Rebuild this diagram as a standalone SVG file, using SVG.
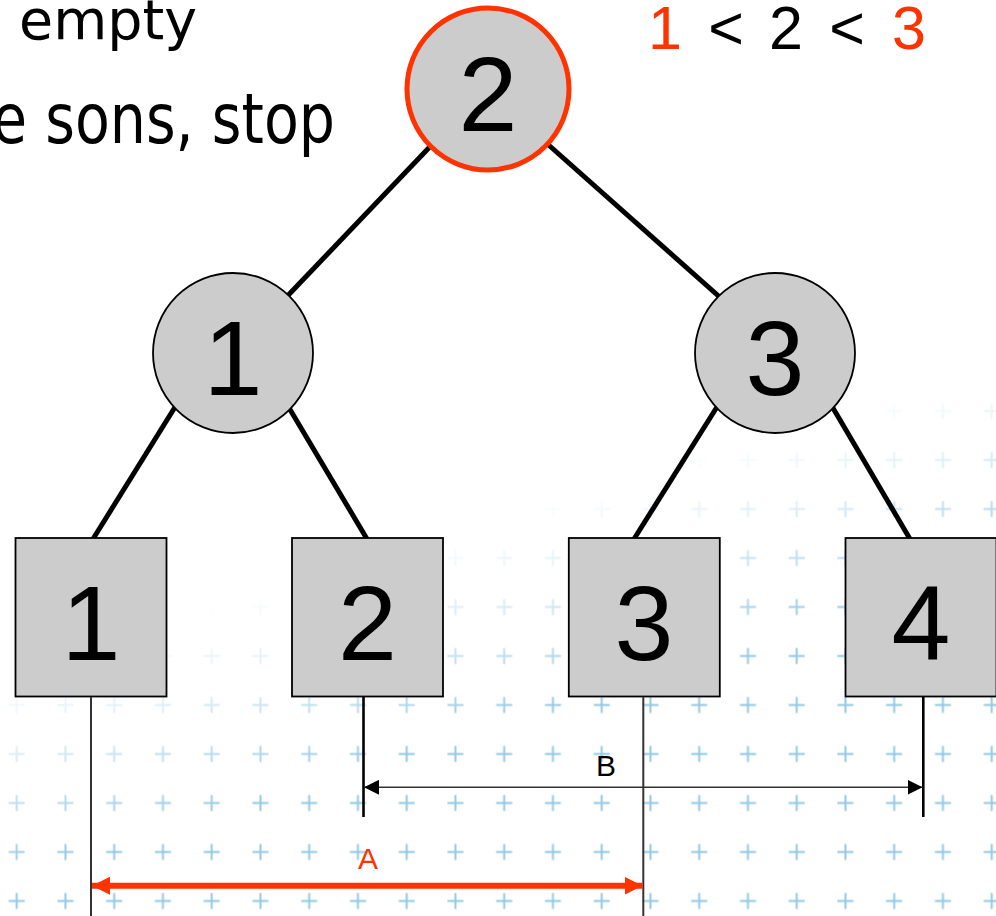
<svg xmlns="http://www.w3.org/2000/svg" width="996" height="916" viewBox="0 0 996 916">
<style>
.txt{font-family:"DejaVu Sans","Liberation Sans",sans-serif;font-size:53px;fill:#000}
.dig{font-family:"Liberation Sans",Arial,sans-serif;font-size:106px;fill:#000;text-anchor:middle}
.top{font-family:"Liberation Sans",Arial,sans-serif;font-size:61px;text-anchor:middle}
.lbl{font-family:"Liberation Sans",Arial,sans-serif;font-size:30px;text-anchor:middle}
.node{fill:#cccccc;stroke:#000;stroke-width:1.8}
.edge{stroke:#000;stroke-width:5;fill:none}
.red{fill:#ff3300}
</style>
<defs>
<pattern id="plus" patternUnits="userSpaceOnUse" x="-7.675" y="680.5" width="48.75" height="49">
<path d="M16.375,24.5 h16 M24.375,16.5 v16" stroke="#94c9e5" stroke-width="2" fill="none"/>
</pattern>
<linearGradient id="fadeGrad" gradientUnits="userSpaceOnUse" x1="189" y1="611" x2="249" y2="802">
<stop offset="0" stop-color="#fff" stop-opacity="0"/>
<stop offset="0.4" stop-color="#fff" stop-opacity="0.3"/>
<stop offset="1" stop-color="#fff" stop-opacity="1"/>
</linearGradient>
<mask id="fade" maskUnits="userSpaceOnUse" x="0" y="0" width="996" height="916">
<rect x="0" y="0" width="996" height="916" fill="url(#fadeGrad)"/>
</mask>
<marker id="arrB" viewBox="0 0 15 15" refX="15" refY="7.5" markerWidth="15" markerHeight="15" orient="auto-start-reverse" markerUnits="userSpaceOnUse">
<path d="M0,0 L15,7.5 L0,15 z" fill="#000"/>
</marker>
<marker id="arrA" viewBox="0 0 18 18" refX="18" refY="9" markerWidth="18" markerHeight="18" orient="auto-start-reverse" markerUnits="userSpaceOnUse">
<path d="M0,0 L18,9 L0,18 z" fill="#ff3300"/>
</marker>
</defs>

<rect x="0" y="0" width="996" height="916" fill="#fff"/>
<rect x="0" y="380" width="996" height="536" fill="url(#plus)" mask="url(#fade)"/>

<g id="caption">
<text class="txt" x="19" y="39" style="font-size:55px" textLength="178" lengthAdjust="spacingAndGlyphs">empty</text>
<text class="txt" x="-8" y="143" style="font-size:69px" textLength="343" lengthAdjust="spacingAndGlyphs">e sons, stop</text>
</g>
<g id="order">
<text class="top red" x="665" y="49">1</text>
<text class="top" x="726" y="49">&lt;</text>
<text class="top" x="786" y="49">2</text>
<text class="top" x="847" y="49">&lt;</text>
<text class="top red" x="909" y="49">3</text>
</g>

<g id="connectors">
<line class="edge" x1="444" y1="132" x2="276" y2="308"/>
<line class="edge" x1="534" y1="132" x2="732" y2="308"/>
<line class="edge" x1="185" y1="391" x2="93" y2="539"/>
<line class="edge" x1="279" y1="391" x2="367" y2="539"/>
<line class="edge" x1="727" y1="391" x2="634" y2="539"/>
<line class="edge" x1="823" y1="391" x2="910" y2="539"/>
</g>

<g id="root">
<circle cx="488" cy="89" r="81" fill="#cccccc" stroke="#ff3300" stroke-width="5"/>
<text class="dig" x="488" y="131">2</text>
</g>
<g id="n1">
<circle class="node" cx="233" cy="353" r="80"/>
<text class="dig" x="233" y="395">1</text>
</g>
<g id="n3">
<circle class="node" cx="775" cy="353" r="80"/>
<text class="dig" x="775" y="395">3</text>
</g>
<g id="leaf1">
<rect class="node" x="15.5" y="538" width="151" height="158.5"/>
<text class="dig" x="91" y="660">1</text>
</g>
<g id="leaf2">
<rect class="node" x="292" y="538" width="151" height="158.5"/>
<text class="dig" x="367.5" y="660">2</text>
</g>
<g id="leaf3">
<rect class="node" x="568.8" y="538" width="151" height="158.5"/>
<text class="dig" x="644" y="660">3</text>
</g>
<g id="leaf4">
<rect class="node" x="845.5" y="538" width="151" height="158.5"/>
<text class="dig" x="921" y="660">4</text>
</g>

<g id="measures">
<line x1="91" y1="697" x2="91" y2="916" stroke="#333" stroke-width="2"/>
<line x1="363.5" y1="697" x2="363.5" y2="817" stroke="#000" stroke-width="2.6"/>
<line x1="643.3" y1="697" x2="643.3" y2="916" stroke="#333" stroke-width="2"/>
<line x1="923.3" y1="697" x2="923.3" y2="817" stroke="#000" stroke-width="2.6"/>
<line x1="364" y1="787.3" x2="922.5" y2="787.3" stroke="#333" stroke-width="1.6" marker-start="url(#arrB)" marker-end="url(#arrB)"/>
<text class="lbl" x="606" y="776">B</text>
<line x1="92" y1="885.7" x2="642.5" y2="885.7" stroke="#ff3300" stroke-width="6" marker-start="url(#arrA)" marker-end="url(#arrA)"/>
<text class="lbl red" x="368" y="869">A</text>
</g>
</svg>
